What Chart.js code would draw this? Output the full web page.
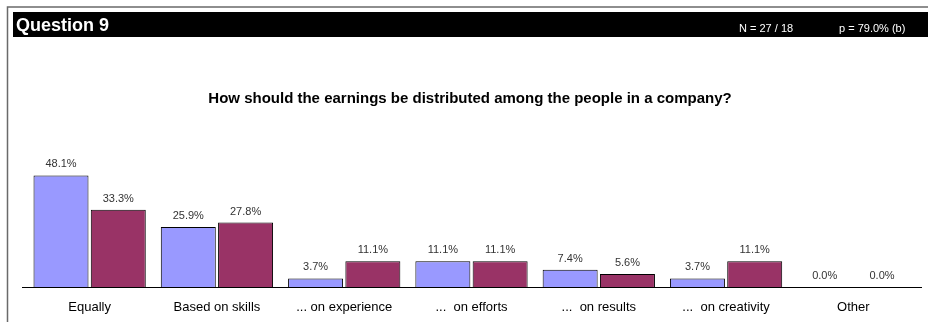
<!DOCTYPE html>
<html>
<head>
<meta charset="utf-8">
<title>Question 9</title>
<script src="https://cdn.jsdelivr.net/npm/chart.js@4"></script>
<style>
  html, body { margin: 0; padding: 0; background: #fff; }
  #wrap { position: relative; width: 928px; height: 322px; }
</style>
</head>
<body>
<div id="wrap"><canvas id="chart" width="928" height="322"></canvas></div>
<script>
// Survey answers, two groups side by side
const categories = ['Equally', 'Based on skills', '... on experience', '...  on efforts', '...  on results', '...  on creativity', 'Other'];
const groupA = [48.1, 25.9, 3.7, 11.1, 7.4, 3.7, 0.0];
const groupB = [33.3, 27.8, 11.1, 11.1, 5.6, 11.1, 0.0];

const headerTitle = 'Question 9';
const headerCount = 'N = 27 / 18';
const headerP = 'p = 79.0% (b)';
const question = 'How should the earnings be distributed among the people in a company?';

const FONT = 'Arial, "Liberation Sans", sans-serif';

// Frame, black header bar and question text
const framePlugin = {
  id: 'frame',
  beforeDraw(chart) {
    const ctx = chart.ctx;
    ctx.save();
    ctx.fillStyle = '#fff';
    ctx.fillRect(0, 0, chart.width, chart.height);

    ctx.strokeStyle = '#6a6a6a';
    ctx.lineWidth = 1.5;
    ctx.beginPath();
    ctx.moveTo(7.5, chart.height);
    ctx.lineTo(7.5, 7);
    ctx.lineTo(chart.width, 7);
    ctx.stroke();

    ctx.fillStyle = '#000';
    ctx.fillRect(13, 12, chart.width - 13, 25);

    ctx.fillStyle = '#fff';
    ctx.textBaseline = 'alphabetic';
    ctx.textAlign = 'left';
    ctx.font = 'bold 18px ' + FONT;
    ctx.fillText(headerTitle, 16, 31);
    ctx.font = '11px ' + FONT;
    ctx.fillText(headerCount, 739, 32);
    ctx.fillText(headerP, 839, 32);

    ctx.fillStyle = '#000';
    ctx.textAlign = 'center';
    ctx.font = 'bold 15px ' + FONT;
    ctx.fillText(question, 470, 103);
    ctx.restore();
  },
  afterDatasetsDraw(chart) {
    const ctx = chart.ctx;
    const y = chart.scales.y.getPixelForValue(0);
    ctx.save();
    ctx.strokeStyle = '#000';
    ctx.lineWidth = 1;
    ctx.beginPath();
    ctx.moveTo(22, Math.round(y) + 0.5);
    ctx.lineTo(922, Math.round(y) + 0.5);
    ctx.stroke();

    // value labels above each bar
    ctx.fillStyle = '#333';
    ctx.font = '11px ' + FONT;
    ctx.textAlign = 'center';
    ctx.textBaseline = 'alphabetic';
    chart.data.datasets.forEach((ds, i) => {
      chart.getDatasetMeta(i).data.forEach((bar, j) => {
        ctx.fillText(ds.data[j].toFixed(1) + '%', bar.x, bar.y - 8);
      });
    });
    ctx.restore();
  }
};

new Chart(document.getElementById('chart'), {
  type: 'bar',
  data: {
    labels: categories,
    datasets: [
      { data: groupA, backgroundColor: '#9999ff', borderColor: '#000', borderWidth: 1 },
      { data: groupB, backgroundColor: '#993366', borderColor: '#000', borderWidth: 1 }
    ]
  },
  options: {
    responsive: false,
    animation: false,
    events: [],
    layout: { padding: { top: 171, left: 26, right: 11, bottom: 6 } },
    datasets: { bar: { categoryPercentage: 0.9, barPercentage: 0.96 } },
    plugins: { legend: { display: false }, tooltip: { enabled: false } },
    scales: {
      x: {
        grid: { display: false, drawTicks: false },
        border: { display: false },
        ticks: { color: '#000', font: { size: 13, family: FONT }, padding: 13, maxRotation: 0, autoSkip: false },
        afterFit(scale) { scale.height = 29; }
      },
      y: { display: false, min: 0, max: 50 }
    }
  },
  plugins: [framePlugin]
});
</script>
</body>
</html>
